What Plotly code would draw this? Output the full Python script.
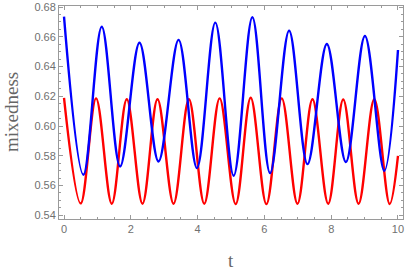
import plotly.graph_objects as go

# Red curve: extrema (t, value)
red_t = [0.0, 0.50, 0.96, 1.43, 1.88, 2.35, 2.80, 3.28, 3.74, 4.20, 4.66,
         5.14, 5.59, 6.06, 6.52, 6.99, 7.44, 7.91, 8.36, 8.82, 9.29, 9.75, 10.0]
red_v = [0.6190, 0.5480, 0.6186, 0.5478, 0.6180, 0.5478, 0.6180, 0.5478, 0.6180, 0.5478, 0.6186,
         0.5475, 0.6190, 0.5475, 0.6186, 0.5478, 0.6180, 0.5478, 0.6178, 0.5478, 0.6180, 0.5476, 0.5800]

# Blue curve: extrema (t, value)
blue_t = [0.0, 0.58, 1.13, 1.68, 2.26, 2.83, 3.43, 3.98, 4.53, 5.08, 5.64,
          6.17, 6.74, 7.29, 7.87, 8.44, 9.01, 9.59, 10.0]
blue_v = [0.6735, 0.5672, 0.6668, 0.5728, 0.6560, 0.5762, 0.6579, 0.5717, 0.6695, 0.5666, 0.6731,
          0.5684, 0.6641, 0.5744, 0.6552, 0.5758, 0.6605, 0.5699, 0.6511]

x_ticks = [0, 2, 4, 6, 8, 10]
y_ticks = [0.54, 0.56, 0.58, 0.60, 0.62, 0.64, 0.66, 0.68]

fig = go.Figure()
fig.add_trace(go.Scatter(x=red_t, y=red_v, mode="lines",
                         line=dict(color="#ff0000", width=2.4, shape="spline", smoothing=1.0)))
fig.add_trace(go.Scatter(x=blue_t, y=blue_v, mode="lines",
                         line=dict(color="#0000ff", width=2.4, shape="spline", smoothing=1.0)))

axis_common = dict(showline=True, linecolor="#9a9a9a", linewidth=1, mirror="allticks",
                   ticks="inside", ticklen=4, tickcolor="#9a9a9a", showgrid=False, zeroline=False,
                   tickfont=dict(family="Liberation Sans, Arial", size=11, color="#707070"))

fig.update_xaxes(range=[-0.15, 10.15], tickvals=x_ticks, ticktext=[str(v) for v in x_ticks],
                 minor=dict(ticks="inside", ticklen=2, dtick=0.5, tick0=0, tickcolor="#9a9a9a"),
                 **axis_common)
fig.update_yaxes(range=[0.5375, 0.6807], tickvals=y_ticks, ticktext=[f"{v:.2f}" for v in y_ticks],
                 minor=dict(ticks="inside", ticklen=2, dtick=0.005, tick0=0.54, tickcolor="#9a9a9a"),
                 **axis_common)

fig.update_layout(
    width=405, height=273, showlegend=False,
    margin=dict(l=59, r=2, t=6, b=54),
    paper_bgcolor="white", plot_bgcolor="white",
    annotations=[
        dict(text="mixedness", xref="paper", yref="paper", x=-0.138, y=0.5, xanchor="center",
             yanchor="middle", textangle=-90, showarrow=False,
             font=dict(family="Liberation Serif, Times New Roman", size=19, color="#666666")),
        dict(text="t", xref="paper", yref="paper", x=0.5, y=-0.195, xanchor="center",
             yanchor="middle", showarrow=False,
             font=dict(family="Liberation Serif, Times New Roman", size=19, color="#666666")),
    ],
)

fig.write_html("out.html", config={"displayModeBar": False},
               post_script="document.body.style.margin='0';document.body.style.overflow='hidden';")
